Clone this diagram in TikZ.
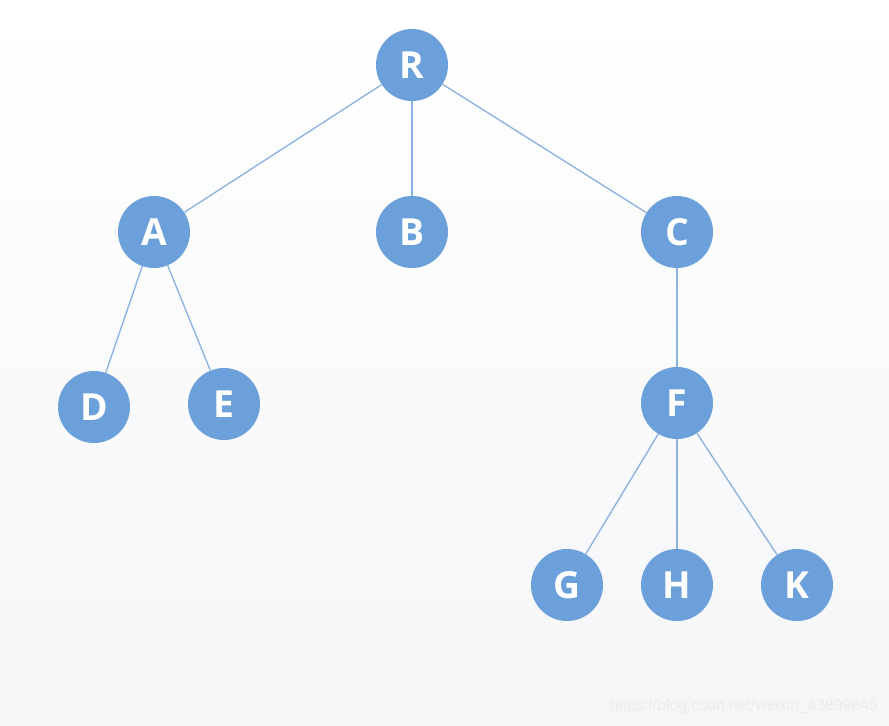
\documentclass[tikz,border=0pt]{standalone}
\usepackage{fontspec}
\setmainfont{Open Sans}
\newfontfamily\wmfont{Liberation Sans}
\definecolor{nodeblue}{RGB}{108,160,218}
\definecolor{edgeblue}{RGB}{140,178,224}
\definecolor{bgbot}{RGB}{245,246,248}
\definecolor{wmgray}{RGB}{236,236,238}
\begin{document}
\begin{tikzpicture}[x=0.75pt,y=-0.75pt,
  tnode/.style={circle,fill=nodeblue,draw=none,minimum size=54pt,inner sep=0pt,text=white,font=\fontsize{28}{30}\selectfont\bfseries},
  tedge/.style={draw=edgeblue,line width=1pt}]
\shade[top color=white,bottom color=bgbot] (0,0) rectangle (889,725);
\useasboundingbox (0,0) rectangle (889,725);
\node[tnode] (R) at (412,65) {R};
\node[tnode] (A) at (154,232) {A};
\node[tnode] (B) at (412,232) {B};
\node[tnode] (C) at (677,232) {C};
\node[tnode] (D) at (94,407) {D};
\node[tnode] (E) at (224,404) {E};
\node[tnode] (F) at (677,403) {F};
\node[tnode] (G) at (567,585) {G};
\node[tnode] (H) at (677,585) {H};
\node[tnode] (K) at (797,585) {K};
\draw[tedge] (R) -- (A);
\draw[tedge] (R) -- (B);
\draw[tedge] (R) -- (C);
\draw[tedge] (A) -- (D);
\draw[tedge] (A) -- (E);
\draw[tedge] (C) -- (F);
\draw[tedge] (F) -- (G);
\draw[tedge] (F) -- (H);
\draw[tedge] (F) -- (K);
\node[anchor=east,text=wmgray,font=\wmfont\fontsize{11.8}{14}\selectfont,inner sep=0pt] (wm) at (878,706) {https://blog.csdn.net/weixin\_43899645};
\end{tikzpicture}
\end{document}
